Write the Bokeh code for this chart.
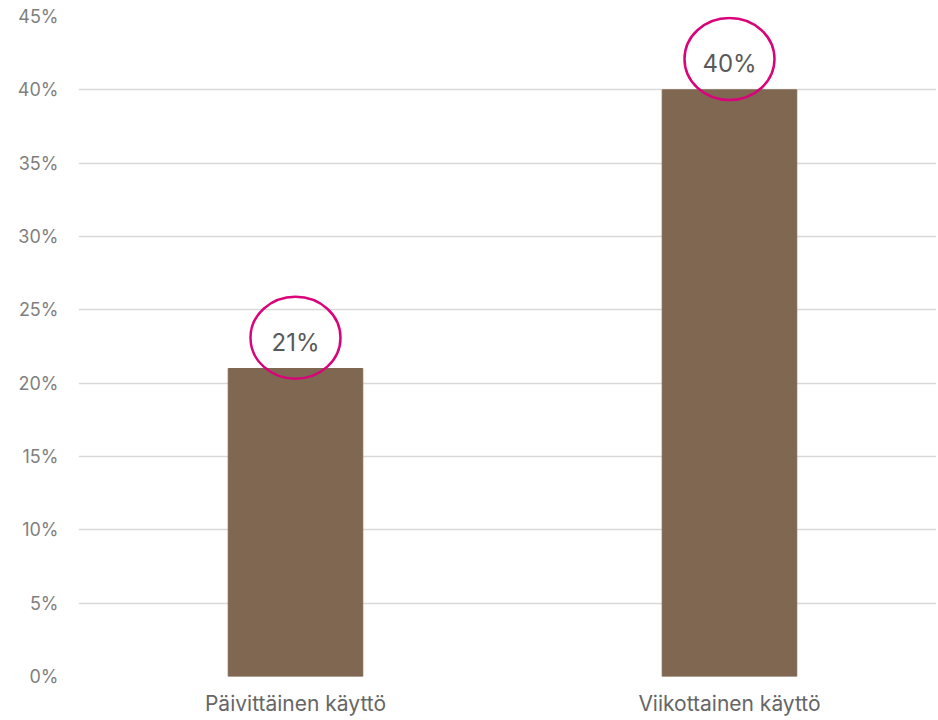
from bokeh.plotting import figure
from bokeh.models import FixedTicker, PrintfTickFormatter, Range1d
from bokeh.embed import file_html
from bokeh.resources import INLINE

categories = ["Päivittäinen käyttö", "Viikottainen käyttö"]
values = [21, 40]
y_ticks = [0, 5, 10, 15, 20, 25, 30, 35, 40, 45]

xs = [i + 0.5 for i in range(len(categories))]

p = figure(width=936, height=718, output_backend="svg", toolbar_location=None,
           x_range=Range1d(0, 1.977), y_range=Range1d(0, 45),
           min_border_left=78, min_border_right=0, min_border_top=16, min_border_bottom=10)
p.outline_line_color = None
p.background_fill_color = "white"
p.border_fill_color = "white"

p.vbar(x=xs, top=values, width=0.31, color="#7f6751")

font = "Inter"
# value labels
p.text(x=xs, y=values, text=[f"{v}%" for v in values], text_align="center",
       text_baseline="middle", y_offset=-26, text_font_size="24px",
       text_color="#595959", text_font={"value": font})
# circle highlights
p.ellipse(x=xs, y=[v + 2.1 for v in values], width=90, height=82,
          width_units="screen", height_units="screen",
          fill_color=None, line_color="#d9047a", line_width=2.5)

p.xgrid.grid_line_color = None
p.ygrid.grid_line_color = "#d9d9d9"
p.ygrid.grid_line_width = 1.5
p.ygrid.ticker = FixedTicker(ticks=y_ticks)

p.yaxis.ticker = FixedTicker(ticks=y_ticks)
p.yaxis.formatter = PrintfTickFormatter(format="%d%%")
p.yaxis.axis_line_color = None
p.yaxis.major_tick_line_color = None
p.yaxis.minor_tick_line_color = None
p.yaxis.major_tick_out = 0
p.yaxis.minor_tick_out = 0
p.yaxis.major_label_standoff = 20
p.yaxis.major_label_text_font_size = "18px"
p.yaxis.major_label_text_color = "#7f7f7f"
p.yaxis.major_label_text_font = font

p.xaxis.ticker = FixedTicker(ticks=xs)
p.xaxis.major_label_overrides = {x: c for x, c in zip(xs, categories)}
p.xaxis.axis_line_color = None
p.xaxis.major_tick_line_color = None
p.xaxis.minor_tick_line_color = None
p.xaxis.major_tick_out = 0
p.xaxis.minor_tick_out = 0
p.xaxis.major_label_standoff = 14
p.xaxis.major_label_text_font_size = "21px"
p.xaxis.major_label_text_color = "#666666"
p.xaxis.major_label_text_font = font

open("out.html", "w").write(file_html(p, INLINE))
